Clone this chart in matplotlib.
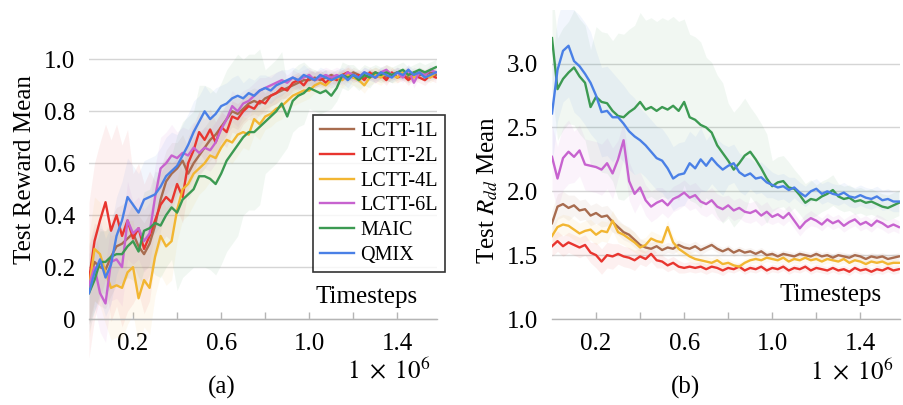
import matplotlib
matplotlib.use("Agg")
import matplotlib.pyplot as plt
import numpy as np

plt.rcParams['font.family'] = 'Liberation Serif'
plt.rcParams['mathtext.fontset'] = 'stix'

# timesteps (x 1e6), one sample every 0.025
steps = np.arange(64) * 0.025

names = ["LCTT-1L", "LCTT-2L", "LCTT-4L", "LCTT-6L", "MAIC", "QMIX"]
colors = ["#a86c4f", "#e8352f", "#f2b632", "#c763cf", "#3c9a52", "#4a80e6"]

# (a) test reward mean
reward_1l = [0.14, 0.22, 0.20, 0.19, 0.24, 0.28, 0.29, 0.31, 0.33, 0.28, 0.25, 0.29, 0.36, 0.46, 0.53, 0.56,
             0.58, 0.61, 0.56, 0.60, 0.63, 0.66, 0.69, 0.71, 0.74, 0.77, 0.80, 0.79, 0.81, 0.83, 0.84, 0.83,
             0.85, 0.86, 0.87, 0.88, 0.89, 0.90, 0.91, 0.92, 0.92, 0.93, 0.92, 0.93, 0.94, 0.93, 0.94, 0.93,
             0.95, 0.94, 0.93, 0.94, 0.95, 0.94, 0.93, 0.94, 0.95, 0.94, 0.93, 0.95, 0.94, 0.94, 0.95, 0.94]
reward_2l = [0.15, 0.30, 0.38, 0.45, 0.34, 0.40, 0.32, 0.38, 0.31, 0.35, 0.27, 0.32, 0.38, 0.44, 0.47, 0.45,
             0.52, 0.47, 0.60, 0.65, 0.72, 0.69, 0.73, 0.68, 0.74, 0.72, 0.78, 0.77, 0.80, 0.82, 0.81, 0.84,
             0.83, 0.86, 0.87, 0.89, 0.88, 0.91, 0.92, 0.90, 0.93, 0.92, 0.93, 0.91, 0.93, 0.92, 0.94, 0.95,
             0.93, 0.94, 0.92, 0.95, 0.93, 0.94, 0.92, 0.95, 0.93, 0.94, 0.92, 0.94, 0.93, 0.92, 0.94, 0.93]
reward_4l = [0.12, 0.27, 0.25, 0.18, 0.12, 0.13, 0.12, 0.18, 0.20, 0.08, 0.15, 0.12, 0.24, 0.32, 0.28, 0.30,
             0.42, 0.50, 0.52, 0.56, 0.58, 0.60, 0.63, 0.62, 0.66, 0.69, 0.68, 0.71, 0.72, 0.71, 0.77, 0.75,
             0.78, 0.79, 0.81, 0.82, 0.84, 0.86, 0.87, 0.88, 0.88, 0.90, 0.91, 0.90, 0.92, 0.93, 0.92, 0.94,
             0.93, 0.92, 0.90, 0.93, 0.94, 0.93, 0.95, 0.94, 0.93, 0.95, 0.94, 0.93, 0.95, 0.94, 0.93, 0.95]
reward_6l = [0.13, 0.20, 0.10, 0.06, 0.22, 0.23, 0.20, 0.38, 0.33, 0.35, 0.30, 0.33, 0.47, 0.58, 0.60, 0.63,
             0.62, 0.64, 0.63, 0.66, 0.64, 0.66, 0.65, 0.68, 0.73, 0.77, 0.82, 0.80, 0.83, 0.84, 0.86, 0.88,
             0.89, 0.90, 0.91, 0.92, 0.91, 0.93, 0.92, 0.93, 0.94, 0.92, 0.93, 0.94, 0.93, 0.94, 0.93, 0.95,
             0.94, 0.93, 0.95, 0.94, 0.93, 0.95, 0.96, 0.94, 0.95, 0.93, 0.96, 0.91, 0.95, 0.94, 0.96, 0.95]
reward_maic = [0.10, 0.15, 0.22, 0.22, 0.24, 0.25, 0.25, 0.28, 0.30, 0.26, 0.34, 0.35, 0.37, 0.36, 0.40, 0.43,
               0.41, 0.46, 0.48, 0.50, 0.55, 0.55, 0.54, 0.52, 0.56, 0.61, 0.64, 0.67, 0.70, 0.72, 0.72, 0.74,
               0.76, 0.78, 0.80, 0.83, 0.78, 0.84, 0.86, 0.87, 0.89, 0.88, 0.87, 0.88, 0.86, 0.89, 0.94, 0.93,
               0.94, 0.92, 0.94, 0.93, 0.95, 0.94, 0.95, 0.94, 0.95, 0.96, 0.94, 0.95, 0.96, 0.95, 0.96, 0.97]
reward_qmix = [0.10, 0.18, 0.23, 0.16, 0.21, 0.32, 0.38, 0.47, 0.44, 0.41, 0.46, 0.47, 0.48, 0.51, 0.55, 0.57,
               0.59, 0.63, 0.67, 0.72, 0.76, 0.80, 0.77, 0.79, 0.82, 0.83, 0.85, 0.86, 0.85, 0.87, 0.86, 0.88,
               0.89, 0.88, 0.90, 0.91, 0.92, 0.93, 0.92, 0.94, 0.93, 0.92, 0.94, 0.93, 0.92, 0.93, 0.94, 0.92,
               0.94, 0.93, 0.95, 0.94, 0.93, 0.95, 0.94, 0.93, 0.95, 0.94, 0.96, 0.94, 0.95, 0.93, 0.94, 0.95]

# spread half-width per 0.1 block
reward_band = [
    [0.15, 0.15, 0.12, 0.12, 0.10, 0.08, 0.06, 0.05, 0.04, 0.03, 0.03, 0.02, 0.02, 0.02, 0.02, 0.02],
    [0.30, 0.35, 0.25, 0.15, 0.10, 0.08, 0.06, 0.05, 0.04, 0.03, 0.03, 0.02, 0.02, 0.02, 0.02, 0.02],
    [0.20, 0.20, 0.18, 0.15, 0.12, 0.10, 0.08, 0.06, 0.05, 0.04, 0.03, 0.03, 0.03, 0.03, 0.02, 0.02],
    [0.15, 0.15, 0.12, 0.12, 0.10, 0.08, 0.06, 0.05, 0.04, 0.03, 0.03, 0.03, 0.02, 0.02, 0.02, 0.02],
    [0.12, 0.12, 0.15, 0.20, 0.30, 0.35, 0.35, 0.30, 0.20, 0.12, 0.08, 0.05, 0.04, 0.03, 0.03, 0.03],
    [0.15, 0.15, 0.15, 0.15, 0.12, 0.10, 0.08, 0.06, 0.05, 0.04, 0.03, 0.03, 0.02, 0.02, 0.02, 0.02],
]

# (b) test R_dd mean
rdd_1l = [1.75, 1.88, 1.90, 1.87, 1.89, 1.85, 1.86, 1.81, 1.83, 1.80, 1.81, 1.76, 1.72, 1.68, 1.66, 1.62,
          1.58, 1.56, 1.55, 1.57, 1.54, 1.56, 1.55, 1.58, 1.56, 1.55, 1.57, 1.54, 1.56, 1.58, 1.55, 1.53,
          1.55, 1.52, 1.54, 1.52, 1.53, 1.51, 1.53, 1.50, 1.51, 1.49, 1.51, 1.50, 1.49, 1.51, 1.50, 1.49,
          1.51, 1.49, 1.50, 1.48, 1.50, 1.49, 1.48, 1.50, 1.49, 1.47, 1.49, 1.48, 1.49, 1.47, 1.48, 1.49]
rdd_2l = [1.57, 1.61, 1.57, 1.60, 1.58, 1.56, 1.58, 1.52, 1.50, 1.45, 1.50, 1.49, 1.51, 1.49, 1.48, 1.46,
          1.49, 1.47, 1.51, 1.46, 1.45, 1.42, 1.44, 1.41, 1.40, 1.41, 1.40, 1.41, 1.39, 1.41, 1.40, 1.38,
          1.40, 1.39, 1.41, 1.38, 1.40, 1.39, 1.41, 1.38, 1.40, 1.39, 1.41, 1.38, 1.40, 1.39, 1.41, 1.38,
          1.40, 1.39, 1.38, 1.40, 1.38, 1.39, 1.37, 1.40, 1.38, 1.39, 1.37, 1.39, 1.38, 1.40, 1.38, 1.39]
rdd_4l = [1.65, 1.72, 1.74, 1.73, 1.70, 1.67, 1.69, 1.70, 1.66, 1.69, 1.68, 1.77, 1.68, 1.66, 1.63, 1.60,
          1.56, 1.58, 1.63, 1.61, 1.60, 1.72, 1.60, 1.55, 1.52, 1.49, 1.47, 1.46, 1.45, 1.44, 1.46, 1.43,
          1.44, 1.42, 1.41, 1.44, 1.46, 1.47, 1.46, 1.48, 1.47, 1.46, 1.48, 1.45, 1.47, 1.46, 1.48, 1.46,
          1.47, 1.45, 1.47, 1.46, 1.45, 1.47, 1.44, 1.46, 1.45, 1.43, 1.45, 1.44, 1.45, 1.43, 1.44, 1.44]
rdd_6l = [2.27, 2.10, 2.26, 2.31, 2.27, 2.32, 2.21, 2.20, 2.19, 2.17, 2.22, 2.14, 2.25, 2.40, 2.08, 1.98,
          2.03, 1.93, 1.88, 1.91, 1.93, 1.89, 1.94, 1.96, 1.99, 1.95, 1.97, 1.92, 1.90, 1.93, 1.88, 1.86,
          1.89, 1.85, 1.87, 1.84, 1.83, 1.85, 1.81, 1.84, 1.80, 1.82, 1.79, 1.83, 1.77, 1.71, 1.76, 1.79,
          1.77, 1.74, 1.78, 1.75, 1.77, 1.73, 1.76, 1.78, 1.74, 1.76, 1.73, 1.77, 1.75, 1.72, 1.74, 1.72]
rdd_maic = [3.20, 2.80, 2.88, 2.93, 2.97, 2.90, 2.85, 2.66, 2.74, 2.70, 2.69, 2.63, 2.59, 2.58, 2.62, 2.65,
            2.70, 2.64, 2.66, 2.63, 2.66, 2.64, 2.67, 2.63, 2.70, 2.58, 2.56, 2.52, 2.50, 2.46, 2.36, 2.30,
            2.24, 2.17, 2.22, 2.28, 2.31, 2.25, 2.18, 2.10, 2.04, 2.07, 2.08, 2.03, 2.02, 1.97, 1.91, 1.94,
            1.93, 1.96, 1.98, 2.01, 1.96, 1.94, 1.95, 1.92, 1.93, 1.91, 1.92, 1.90, 1.88, 1.87, 1.89, 1.91]
rdd_qmix = [2.61, 2.95, 3.10, 3.14, 3.02, 2.98, 2.92, 2.85, 2.75, 2.62, 2.63, 2.58, 2.58, 2.53, 2.47, 2.43,
            2.40, 2.36, 2.31, 2.26, 2.24, 2.18, 2.10, 2.13, 2.14, 2.22, 2.18, 2.25, 2.20, 2.26, 2.21, 2.17,
            2.20, 2.22, 2.15, 2.12, 2.14, 2.10, 2.11, 2.07, 2.05, 2.03, 2.04, 2.01, 2.03, 1.99, 1.96, 2.00,
            2.02, 1.98, 2.00, 1.98, 1.97, 1.99, 1.96, 1.95, 1.97, 1.95, 1.94, 1.96, 1.93, 1.94, 1.92, 1.92]

rdd_band = [
    [0.10, 0.08, 0.08, 0.06, 0.05, 0.04, 0.04, 0.03, 0.03, 0.03, 0.03, 0.03, 0.03, 0.03, 0.03, 0.03],
    [0.08, 0.08, 0.10, 0.08, 0.06, 0.05, 0.04, 0.04, 0.03, 0.03, 0.03, 0.03, 0.03, 0.03, 0.03, 0.03],
    [0.08, 0.08, 0.08, 0.08, 0.06, 0.05, 0.04, 0.04, 0.03, 0.03, 0.03, 0.03, 0.03, 0.03, 0.03, 0.03],
    [0.25, 0.20, 0.20, 0.15, 0.12, 0.10, 0.10, 0.10, 0.08, 0.08, 0.06, 0.06, 0.05, 0.05, 0.05, 0.05],
    [0.40, 0.45, 0.55, 0.65, 0.70, 0.70, 0.65, 0.55, 0.45, 0.35, 0.20, 0.15, 0.12, 0.10, 0.10, 0.10],
    [0.40, 0.40, 0.35, 0.30, 0.25, 0.25, 0.25, 0.20, 0.15, 0.12, 0.10, 0.08, 0.08, 0.08, 0.08, 0.08],
]

reward_all = [reward_1l, reward_2l, reward_4l, reward_6l, reward_maic, reward_qmix]
rdd_all = [rdd_1l, rdd_2l, rdd_4l, rdd_6l, rdd_maic, rdd_qmix]

fig = plt.figure(figsize=(9.04, 4.05), dpi=100)
W, H = 904, 405
ax1 = fig.add_axes([89 / W, 1 - 358 / H, 348 / W, 309 / H])
ax2 = fig.add_axes([552 / W, 1 - 319 / H, 348 / W, 309 / H])


def style(ax):
    for s in ['top', 'right', 'left']:
        ax.spines[s].set_visible(False)
    ax.spines['bottom'].set_color('#b5b5b5')
    ax.spines['bottom'].set_linewidth(1.0)
    ax.set_xlim(0, 1.58)
    ax.set_xticks([0.2, 0.6, 1.0, 1.4])
    ax.set_xticks([0.4, 0.8, 1.2], minor=True)
    ax.set_xticklabels(["0.2", "0.6", "1.0", "1.4"])
    ax.tick_params(axis='x', which='both', direction='in', length=5, width=1,
                   color='#b5b5b5', labelsize=18, pad=10)
    ax.tick_params(axis='y', length=0, labelsize=18, pad=10)
    ax.grid(axis='y', color='#d5d5d5', linewidth=1.0)
    ax.set_axisbelow(True)


lines = []
for vals, band, c, n in zip(reward_all, reward_band, colors, names):
    vals = np.array(vals)
    hw = np.repeat(band, 4)
    ax1.fill_between(steps, vals - hw, vals + hw, color=c, alpha=0.07, lw=0)
for vals, c, n in zip(reward_all, colors, names):
    l, = ax1.plot(steps, vals, color=c, lw=1.7, label=n)
    lines.append(l)
style(ax1)
ax1.set_ylim(-0.15, 1.04)
ax1.spines['bottom'].set_position(('data', 0))
ax1.set_yticks([0, 0.2, 0.4, 0.6, 0.8, 1.0])
ax1.set_yticklabels(["0", "0.2", "0.4", "0.6", "0.8", "1.0"])
ax1.text(1.26, 0.085, "Timesteps", fontsize=18, ha='center', va='center')
ax1.text(1.55, -0.20, r"$1\ \times\ 10^{6}$", fontsize=18, ha='right', va='center')

for vals, band, c in zip(rdd_all, rdd_band, colors):
    vals = np.array(vals)
    hw = np.repeat(band, 4)
    ax2.fill_between(steps, vals - hw, vals + hw, color=c, alpha=0.07, lw=0)
for vals, c in zip(rdd_all, colors):
    ax2.plot(steps, vals, color=c, lw=1.7)
style(ax2)
ax2.set_ylim(1.0, 3.42)
ax2.set_yticks([1.0, 1.5, 2.0, 2.5, 3.0])
ax2.set_yticklabels(["1.0", "1.5", "2.0", "2.5", "3.0"])
ax2.text(1.264, 1.19, "Timesteps", fontsize=18, ha='center', va='center')
ax2.text(1.55, 0.59, r"$1\ \times\ 10^{6}$", fontsize=18, ha='right', va='center', clip_on=False)

fig.text(25 / W, 1 - 170 / H, "Test Reward Mean", fontsize=18, rotation=90, ha='center', va='center')
fig.text(488 / W, 1 - 190 / H, r"Test $R_{dd}$ Mean", fontsize=18, rotation=90, ha='center', va='center')
fig.text(222 / W, 1 - 387 / H, "(a)", fontsize=18, ha='center', va='center')
fig.text(686 / W, 1 - 387 / H, "(b)", fontsize=18, ha='center', va='center')

leg = fig.legend(handles=lines, loc='upper left', bbox_to_anchor=(313 / W, 1 - 115 / H),
                 fontsize=14.5, frameon=True, fancybox=False, edgecolor='black',
                 handlelength=1.7, handletextpad=0.3, labelspacing=0.28,
                 borderpad=0.35, borderaxespad=0)
leg.get_frame().set_linewidth(1.2)

fig.savefig("out.png", dpi=100)
